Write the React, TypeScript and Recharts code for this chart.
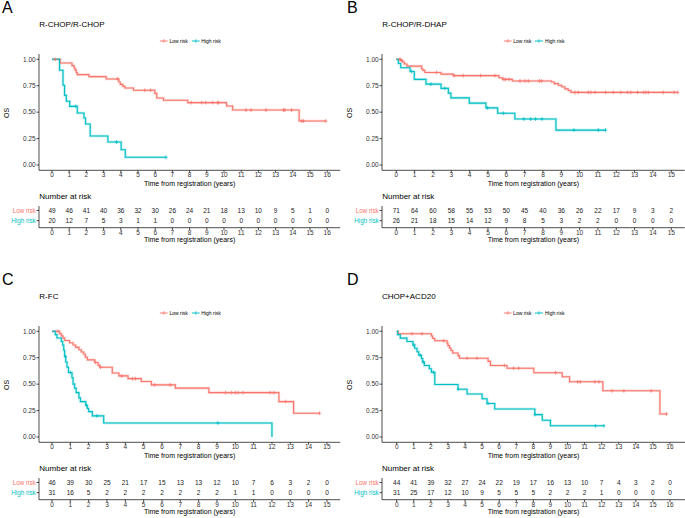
import React from "react";
import { ComposedChart, Line, Scatter, ScatterChart, XAxis, YAxis } from "recharts";

const LOW = "#F8766D";
const HIGH = "#00BFC4";
const FONT = "'Liberation Sans', Arial, Helvetica, sans-serif";

type Step = [number, number];

// axis ticks
const years16 = [0, 1, 2, 3, 4, 5, 6, 7, 8, 9, 10, 11, 12, 13, 14, 15, 16];
const years15 = [0, 1, 2, 3, 4, 5, 6, 7, 8, 9, 10, 11, 12, 13, 14, 15];
const osTicks = [0, 0.25, 0.5, 0.75, 1];

// A: R-CHOP/R-CHOP  (step = [time, survival after the drop])
const aLowSteps: Step[] = [[0, 1], [0.48, 0.965], [1.16, 0.94], [1.28, 0.92], [1.33, 0.9], [1.41, 0.875], [1.47, 0.855], [2.15, 0.836], [3.15, 0.814], [3.89, 0.785], [3.97, 0.763], [4.12, 0.744], [4.24, 0.729], [4.74, 0.707], [5.98, 0.678], [6.09, 0.634], [6.48, 0.612], [7.89, 0.59], [10.15, 0.558], [10.5, 0.52], [14.37, 0.416]];
const aLowEnd = 15.92;
const aLowCensor = [0.19, 3.81, 5.4, 5.73, 8.09, 8.7, 8.94, 9.34, 9.63, 9.69, 11.28, 11.57, 12.44, 13.46, 13.54, 13.93, 14.51, 14.62, 15.92];
const aHighSteps: Step[] = [[0, 1], [0.44, 0.896], [0.64, 0.754], [0.73, 0.659], [0.83, 0.603], [1.03, 0.555], [1.47, 0.492], [1.86, 0.445], [1.95, 0.388], [2.22, 0.274], [3.25, 0.218], [4.02, 0.145], [4.26, 0.073]];
const aHighEnd = 6.63;
const aHighCensor = [1.38, 3.75, 6.63];
const aLowRisk = [49, 46, 41, 40, 36, 32, 30, 26, 24, 21, 18, 13, 10, 9, 5, 1, 0];
const aHighRisk = [20, 12, 7, 5, 3, 1, 1, 0, 0, 0, 0, 0, 0, 0, 0, 0, 0];

// B: R-CHOP/R-DHAP
const bLowSteps: Step[] = [[0, 1], [0.22, 0.99], [0.33, 0.975], [0.44, 0.955], [0.58, 0.935], [1.38, 0.91], [1.45, 0.895], [1.56, 0.875], [2.44, 0.86], [3.11, 0.845], [5.6, 0.825], [5.8, 0.81], [6.33, 0.795], [8.47, 0.785], [8.62, 0.77], [8.84, 0.755], [9.02, 0.74], [9.2, 0.72], [9.38, 0.705], [9.53, 0.687]];
const bLowEnd = 15.35;
const bLowCensor = [0.2, 0.29, 2.2, 3.16, 3.65, 4.6, 5.38, 5.87, 5.96, 6.15, 6.75, 7.02, 7.2, 7.8, 7.93, 9.75, 9.93, 10.47, 10.62, 10.84, 11.42, 11.84, 12.25, 12.62, 12.8, 13.16, 13.5, 13.62, 13.75, 14.56, 15.16, 15.35];
const bHighSteps: Step[] = [[0, 1], [0.11, 0.96], [0.24, 0.92], [0.75, 0.885], [0.98, 0.81], [1.62, 0.765], [2.44, 0.725], [2.84, 0.68], [2.98, 0.635], [3.98, 0.585], [4.89, 0.54], [5.53, 0.49], [6.47, 0.435], [8.71, 0.33]];
const bHighEnd = 11.42;
const bHighCensor = [0.84, 1.89, 2.65, 4.98, 5.84, 6.96, 7.33, 7.6, 7.95, 9.69, 11.02, 11.42];
const bLowRisk = [71, 64, 60, 58, 55, 53, 50, 45, 40, 36, 26, 22, 17, 9, 3, 2];
const bHighRisk = [26, 21, 18, 15, 14, 12, 9, 8, 5, 3, 2, 2, 0, 0, 0, 0];

// C: R-FC
const cLowSteps: Step[] = [[0, 1], [0.42, 0.978], [0.51, 0.957], [0.6, 0.935], [0.69, 0.913], [0.96, 0.891], [1.15, 0.87], [1.29, 0.848], [1.47, 0.826], [1.6, 0.804], [1.73, 0.783], [1.82, 0.755], [1.93, 0.73], [2.33, 0.705], [2.51, 0.68], [2.6, 0.66], [3.29, 0.605], [3.65, 0.578], [4.15, 0.552], [4.87, 0.525], [5.42, 0.493], [6.73, 0.462], [8.56, 0.42], [12.38, 0.335], [13.18, 0.225]];
const cLowEnd = 14.6;
const cLowCensor = [0.33, 2.38, 2.65, 3.8, 4.4, 4.55, 5.6, 6.45, 9.47, 9.78, 10.0, 10.15, 10.42, 11.9, 12.1, 12.75, 14.6];
const cHighSteps: Step[] = [[0, 1], [0.18, 0.968], [0.27, 0.936], [0.51, 0.904], [0.58, 0.87], [0.64, 0.82], [0.69, 0.76], [0.75, 0.71], [0.82, 0.66], [0.9, 0.61], [1.09, 0.56], [1.15, 0.5], [1.24, 0.46], [1.32, 0.42], [1.47, 0.37], [1.55, 0.335], [1.84, 0.3], [1.93, 0.27], [2.0, 0.24], [2.2, 0.2], [2.82, 0.133], [12.0, 0]];
const cHighEnd = 12.0;
const cHighCensor = [0.74, 1.0, 1.88, 2.45, 9.05];
const cLowRisk = [46, 39, 30, 25, 21, 17, 15, 13, 13, 12, 10, 7, 6, 3, 2, 0];
const cHighRisk = [31, 16, 5, 2, 2, 2, 2, 2, 2, 2, 1, 1, 0, 0, 0, 0];

// D: CHOP+ACD20
const dLowSteps: Step[] = [[0, 1], [0.08, 0.977], [2.03, 0.955], [2.11, 0.932], [2.23, 0.91], [2.95, 0.886], [3.0, 0.864], [3.09, 0.84], [3.18, 0.818], [3.28, 0.795], [3.59, 0.77], [3.67, 0.745], [5.35, 0.715], [5.49, 0.677], [6.46, 0.65], [8.03, 0.608], [9.69, 0.57], [10.12, 0.522], [12.07, 0.437], [15.41, 0.218]];
const dLowEnd = 15.8;
const dLowCensor = [0.9, 1.48, 2.75, 4.12, 4.7, 6.3, 6.85, 7.15, 9.3, 10.6, 10.75, 11.6, 11.84, 12.6, 13.3, 14.9, 15.8];
const dHighSteps: Step[] = [[0, 1], [0.06, 0.968], [0.21, 0.935], [0.6, 0.903], [0.95, 0.871], [1.05, 0.839], [1.19, 0.806], [1.29, 0.774], [1.45, 0.742], [1.52, 0.71], [1.62, 0.677], [1.91, 0.645], [2.03, 0.613], [2.23, 0.497], [3.59, 0.452], [4.12, 0.407], [5.0, 0.362], [5.29, 0.317], [5.74, 0.265], [8.09, 0.212], [8.52, 0.159], [9.0, 0.106]];
const dHighEnd = 12.13;
const dHighCensor = [1.0, 1.38, 1.55, 2.15, 3.6, 5.35, 8.1, 11.63, 12.13];
const dLowRisk = [44, 41, 39, 32, 27, 24, 22, 19, 17, 16, 13, 10, 7, 4, 3, 2, 0];
const dHighRisk = [31, 25, 17, 12, 10, 9, 5, 5, 5, 2, 2, 2, 1, 0, 0, 0, 0];

const panels = [
  { letter: "A", title: "R-CHOP/R-CHOP", ticks: years16, low: [aLowSteps, aLowEnd, aLowCensor], high: [aHighSteps, aHighEnd, aHighCensor], lowRisk: aLowRisk, highRisk: aHighRisk },
  { letter: "B", title: "R-CHOP/R-DHAP", ticks: years15, low: [bLowSteps, bLowEnd, bLowCensor], high: [bHighSteps, bHighEnd, bHighCensor], lowRisk: bLowRisk, highRisk: bHighRisk },
  { letter: "C", title: "R-FC", ticks: years15, low: [cLowSteps, cLowEnd, cLowCensor], high: [cHighSteps, cHighEnd, cHighCensor], lowRisk: cLowRisk, highRisk: cHighRisk },
  { letter: "D", title: "CHOP+ACD20", ticks: years16, low: [dLowSteps, dLowEnd, dLowCensor], high: [dHighSteps, dHighEnd, dHighCensor], lowRisk: dLowRisk, highRisk: dHighRisk },
] as any[];

// page layout (px)
const layouts = [
  { left: 39.3, right: 340.5, x0: 52.3, ppy: 17.2, top: 0, letterX: 2 },
  { left: 382.3, right: 685, x0: 396.6, ppy: 18.33, top: 0, letterX: 347 },
  { left: 39.3, right: 340.5, x0: 52.3, ppy: 18.33, top: 272.3, letterX: 2 },
  { left: 382, right: 685, x0: 396.7, ppy: 17.08, top: 272.3, letterX: 347 },
];

const AXIS_W = 40;
const axisLine = { stroke: "#000", strokeWidth: 0.7 };
const tickText = { fontSize: 6.5, fill: "#333", fontFamily: FONT };

function survAt(steps: Step[], t: number) {
  let s = 1;
  for (const [st, sv] of steps) if (st <= t) s = sv;
  return s;
}

function curve(steps: Step[], end: number) {
  return [...steps.map(([t, s]) => ({ t, s })), { t: end, s: steps[steps.length - 1][1] }];
}

const plusShape = (color: string) => (props: any) => {
  const { cx, cy } = props;
  return (
    <g stroke={color} strokeWidth={0.8}>
      <line x1={cx - 1.6} x2={cx + 1.6} y1={cy} y2={cy} />
      <line x1={cx} x2={cx} y1={cy - 1.9} y2={cy + 1.9} />
    </g>
  );
};

// text whose cap height is centred on y
function Txt({ x, y, size, children, color = "#000" }: any) {
  return (
    <div
      style={{
        position: "absolute",
        left: x,
        top: y - size * 0.49,
        fontSize: size,
        lineHeight: `${size}px`,
        color,
        whiteSpace: "nowrap",
        fontFamily: FONT,
      }}
    >
      {children}
    </div>
  );
}

function LegendKey({ color, label }: { color: string; label: string }) {
  return (
    <span style={{ display: "inline-flex", alignItems: "center", marginRight: 3.5 }}>
      <svg width={8.5} height={6} style={{ display: "block" }}>
        <line x1={0} x2={8.5} y1={3} y2={3} stroke={color} strokeWidth={1} />
        <line x1={4.25} x2={4.25} y1={1.2} y2={4.8} stroke={color} strokeWidth={0.8} />
      </svg>
      <span style={{ fontSize: 5, marginLeft: 1.5, lineHeight: "6px" }}>{label}</span>
    </span>
  );
}

function Panel({ p, lay }: { p: any; lay: any }) {
  const width = lay.right - lay.left + AXIS_W;
  const domain = [(lay.left - lay.x0) / lay.ppy, (lay.right - lay.x0) / lay.ppy];
  const [lowSteps, lowEnd, lowCensor] = p.low;
  const [highSteps, highEnd, highCensor] = p.high;
  const groups = [
    { color: LOW, line: curve(lowSteps, lowEnd), marks: lowCensor.map((t: number) => ({ t, s: survAt(lowSteps, t) })) },
    { color: HIGH, line: curve(highSteps, highEnd), marks: highCensor.map((t: number) => ({ t, s: survAt(highSteps, t) })) },
  ];
  const lowRow = p.lowRisk.map((n: number, i: number) => ({ t: p.ticks[i], row: 2, n }));
  const highRow = p.highRisk.map((n: number, i: number) => ({ t: p.ticks[i], row: 1, n }));
  const midX = (lay.left + lay.right) / 2 + 2;
  const T = lay.top;

  const numShape = (props: any) => (
    <text x={props.cx} y={props.cy} textAnchor="middle" dominantBaseline="central" fontSize={6.5} fill="#222" fontFamily={FONT}>
      {props.payload.n}
    </text>
  );

  const rowTick = (props: any) => {
    const v = props.payload.value;
    return (
      <text x={props.x} y={props.y} textAnchor="end" dominantBaseline="central" fontSize={6.3} fill={v === 2 ? LOW : HIGH} fontFamily={FONT}>
        {v === 2 ? "Low risk" : "High risk"}
      </text>
    );
  };

  return (
    <>
      <Txt x={lay.letterX} y={T + 7.8} size={16}>{p.letter}</Txt>
      <Txt x={lay.left} y={T + 25} size={8}>{p.title}</Txt>
      <div style={{ position: "absolute", left: midX, top: T + 38, transform: "translateX(-50%)", display: "flex", fontFamily: FONT, whiteSpace: "nowrap" }}>
        <LegendKey color={LOW} label="Low risk" />
        <LegendKey color={HIGH} label="High risk" />
      </div>
      <div style={{ position: "absolute", left: lay.left - 32, top: T + 113, transform: "translate(-50%, -50%) rotate(-90deg)", fontSize: 7, fontFamily: FONT, lineHeight: "8px" }}>
        OS
      </div>

      <div style={{ position: "absolute", left: lay.left - AXIS_W, top: T }}>
        <ComposedChart width={width} height={195} margin={{ top: 54, right: 0, bottom: 0, left: 0 }}>
          <XAxis
            type="number"
            dataKey="t"
            domain={domain}
            ticks={p.ticks}
            allowDataOverflow
            interval={0}
            height={24.7}
            tickSize={2.5}
            tickMargin={0}
            tick={tickText}
            axisLine={axisLine}
            tickLine={axisLine}
            label={{ value: "Time from registration (years)", position: "insideBottom", offset: 8.8, fontSize: 7, fill: "#000", fontFamily: FONT }}
          />
          <YAxis
            type="number"
            dataKey="s"
            domain={[-0.05, 1.05]}
            ticks={osTicks}
            allowDataOverflow
            interval={0}
            width={AXIS_W}
            tickSize={2.5}
            tickMargin={0.8}
            tick={tickText}
            axisLine={axisLine}
            tickLine={axisLine}
            tickFormatter={(v: number) => v.toFixed(2)}
          />
          {groups.map((g, i) => (
            <Line key={`h${i}`} data={g.line} dataKey="s" type="stepAfter" stroke={g.color} strokeWidth={2.6} strokeOpacity={0.28} dot={false} activeDot={false} isAnimationActive={false} />
          ))}
          {groups.map((g, i) => (
            <Line key={`l${i}`} data={g.line} dataKey="s" type="stepAfter" stroke={g.color} strokeWidth={1.1} dot={false} activeDot={false} isAnimationActive={false} />
          ))}
          {groups.map((g, i) => (
            <Scatter key={`c${i}`} data={g.marks} dataKey="s" shape={plusShape(g.color)} isAnimationActive={false} />
          ))}
        </ComposedChart>
      </div>

      <Txt x={lay.left} y={T + 197} size={8}>Number at risk</Txt>

      <div style={{ position: "absolute", left: lay.left - AXIS_W, top: T + 200 }}>
        <ScatterChart width={width} height={45} margin={{ top: 6, right: 0, bottom: 0, left: 0 }}>
          <XAxis
            type="number"
            dataKey="t"
            domain={domain}
            ticks={p.ticks}
            allowDataOverflow
            interval={0}
            height={17.3}
            tickSize={2.5}
            tickMargin={0}
            tick={tickText}
            axisLine={axisLine}
            tickLine={axisLine}
            label={{ value: "Time from registration (years)", position: "insideBottom", offset: 3.2, fontSize: 7, fill: "#000", fontFamily: FONT }}
          />
          <YAxis
            type="number"
            dataKey="row"
            domain={[0.31, 2.44]}
            ticks={[1, 2]}
            allowDataOverflow
            interval={0}
            width={AXIS_W}
            tickSize={2.5}
            tickMargin={0.8}
            tick={rowTick}
            axisLine={axisLine}
            tickLine={axisLine}
          />
          <Scatter data={lowRow} shape={numShape} isAnimationActive={false} />
          <Scatter data={highRow} shape={numShape} isAnimationActive={false} />
        </ScatterChart>
      </div>
    </>
  );
}

export default function App() {
  return (
    <div style={{ position: "absolute", left: 0, top: 0, width: 685, height: 518, overflow: "hidden", background: "#fff", fontFamily: FONT }}>
      {panels.map((p, i) => (
        <Panel key={p.letter} p={p} lay={layouts[i]} />
      ))}
    </div>
  );
}
